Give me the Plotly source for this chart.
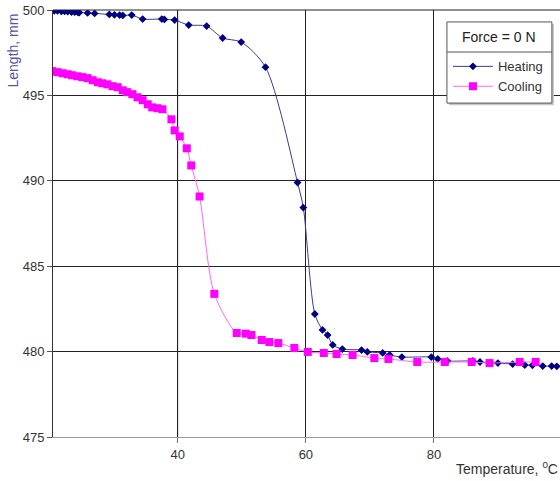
import plotly.graph_objects as go

heat_T = [20.7, 21.2, 21.8, 22.3, 22.8, 23.4, 23.9, 24.4, 24.6, 25.9, 27.0, 29.3, 30.1, 30.9, 31.4,
          32.8, 34.5, 37.5, 37.9, 39.5, 41.7, 44.5, 47.0, 49.9, 53.7, 58.7, 59.6, 61.4, 62.6,
          63.4, 64.2, 65.7, 68.7, 69.6, 72.0, 73.1, 75.0, 79.6, 80.6, 82.1, 86.1, 87.2, 90.0,
          92.3, 94.2, 95.4, 97.0, 98.4, 99.2]
heat_L = [499.95, 499.95, 499.92, 499.92, 499.9, 499.88, 499.87, 499.86, 499.85, 499.83, 499.8,
          499.74, 499.72, 499.7, 499.68, 499.7, 499.47, 499.47, 499.45, 499.41, 499.12, 499.06,
          498.36, 498.12, 496.65, 489.9, 488.43, 482.2, 481.27, 480.97, 480.39, 480.15, 480.09,
          479.98, 479.92, 479.8, 479.68, 479.68, 479.57, 479.45, 479.45, 479.39, 479.33, 479.27,
          479.21, 479.2, 479.15, 479.15, 479.14]

cool_T = [20.4, 21.2, 22.0, 22.8, 23.5, 24.3, 25.1, 25.9, 26.7, 27.5, 28.2, 29.0, 29.8, 30.6,
          31.4, 32.1, 32.9, 33.7, 34.5, 35.3, 36.0, 36.8, 37.6, 39.0, 39.5, 40.3, 41.4, 42.1,
          43.4, 45.7, 49.2, 50.6, 51.5, 53.1, 54.3, 55.7, 58.2, 60.3, 62.8, 64.8, 67.3, 70.7,
          72.9, 77.4, 81.7, 85.9, 88.7, 93.4, 95.9]
cool_L = [496.42, 496.36, 496.3, 496.24, 496.18, 496.12, 496.07, 496.01, 495.89, 495.77, 495.71,
          495.65, 495.54, 495.48, 495.3, 495.19, 495.07, 494.89, 494.72, 494.48, 494.3, 494.25,
          494.19, 493.6, 492.95, 492.6, 491.9, 490.9, 489.08, 483.38, 481.09, 481.05, 480.97,
          480.68, 480.56, 480.5, 480.21, 479.98, 479.92, 479.86, 479.8, 479.62, 479.57, 479.39,
          479.39, 479.39, 479.33, 479.39, 479.39]

legend_title = "Force = 0 N"
x_title = "Temperature, <sup>0</sup>C"
y_title = "Length, mm"

FONT = "Liberation Sans, Arial, sans-serif"

fig = go.Figure()
fig.add_trace(go.Scatter(
    x=heat_T, y=heat_L, name="Heating", mode="lines+markers", legendgroup="h",
    line=dict(color="#3a3a98", width=1, shape="spline", smoothing=0.8),
    marker=dict(symbol="diamond", size=6, color="#000080"),
))
fig.add_trace(go.Scatter(
    x=cool_T, y=cool_L, name="Cooling", mode="lines+markers", legendgroup="c",
    line=dict(color="#ff66ff", width=1, shape="spline", smoothing=0.8),
    marker=dict(symbol="square", size=8, color="#ff00ff"),
))

LX0, LX1, LY0, LY1 = 0.777, 0.984, 0.782, 0.972
SEP_Y = 0.9016

fig.update_layout(
    width=560, height=481,
    margin=dict(l=53, r=0, t=10, b=44),
    paper_bgcolor="white", plot_bgcolor="white",
    font=dict(family=FONT, size=13, color="#333333"),
    showlegend=True,
    legend=dict(
        x=LX0 + 0.002, y=0.903, xanchor="left", yanchor="top",
        bgcolor="rgba(0,0,0,0)", borderwidth=0,
        font=dict(family=FONT, size=13, color="#333333"),
        itemwidth=40, tracegroupgap=0, traceorder="grouped",
    ),
    xaxis=dict(
        range=[20.5, 99.7], dtick=20, tick0=0,
        showgrid=True, gridcolor="#222222", gridwidth=1,
        showline=True, linecolor="#999999", linewidth=1,
        ticks="outside", ticklen=5, tickcolor="#777777",
        zeroline=False, tickfont=dict(size=13, color="#333333"),
    ),
    yaxis=dict(
        range=[475, 500], dtick=5,
        showgrid=True, gridcolor="#222222", gridwidth=1,
        showline=True, linecolor="#333333", linewidth=1,
        ticks="outside", ticklen=5, tickcolor="#555555",
        zeroline=False, tickfont=dict(size=13, color="#333333"),
    ),
    annotations=[
        dict(text=y_title, textangle=-90, xref="paper", yref="paper",
             x=-0.079, y=0.905, xanchor="center", yanchor="middle", showarrow=False,
             font=dict(family=FONT, size=14, color="#5555a5")),
        dict(text=x_title, xref="paper", yref="paper",
             x=1.0, y=-0.073, xanchor="right", yanchor="middle", showarrow=False,
             font=dict(family=FONT, size=14, color="#333333")),
        dict(text=legend_title, xref="paper", yref="paper",
             x=(LX0 + LX1) / 2, y=(LY1 + SEP_Y) / 2, xanchor="center", yanchor="middle",
             showarrow=False, font=dict(family=FONT, size=14, color="#222222")),
    ],
)

fig.add_shape(type="line", xref="paper", yref="paper", x0=0, x1=1, y0=1, y1=1,
              line=dict(color="#222222", width=1))
fig.add_shape(type="line", xref="x", yref="paper", x0=40, x1=40, y0=0, y1=1,
              layer="between", line=dict(color="#aaaaaa", width=1))
fig.add_shape(type="rect", xref="paper", yref="paper",
              x0=LX0 + 0.004, x1=LX1 + 0.004, y0=LY0 - 0.005, y1=LY1 - 0.005,
              layer="above", line=dict(width=0), fillcolor="#c8c8c8")
fig.add_shape(type="rect", xref="paper", yref="paper", x0=LX0, x1=LX1, y0=LY0, y1=LY1,
              layer="above", line=dict(color="#555555", width=1), fillcolor="white")
fig.add_shape(type="line", xref="paper", yref="paper", x0=LX0, x1=LX1, y0=SEP_Y, y1=SEP_Y,
              layer="above", line=dict(color="#555555", width=1))

fig.write_html("out.html")
